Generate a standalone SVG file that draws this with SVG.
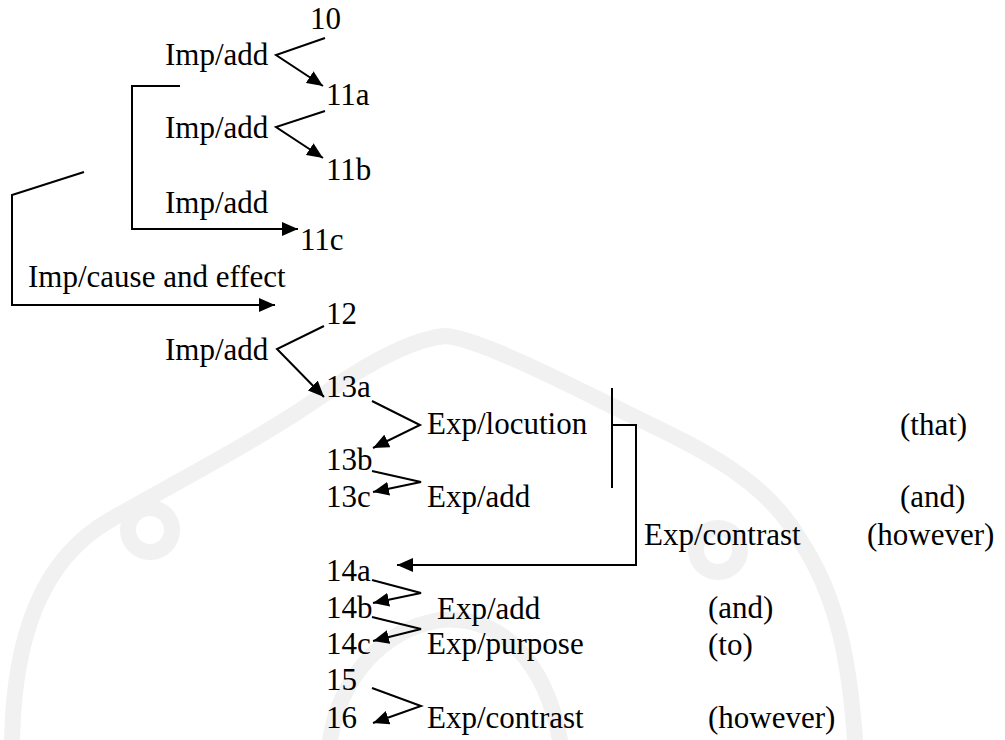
<svg xmlns="http://www.w3.org/2000/svg" width="1005" height="740" viewBox="0 0 1005 740">
  <style>
    text { font-family: Liberation Serif, Tinos, Times New Roman, Times, Noto Serif, DejaVu Serif, FreeSerif, serif; font-size: 31px; fill: #000; }
    .ln { fill: none; stroke: #000; stroke-width: 2; stroke-linejoin: miter; }
    .wm { fill: none; stroke: #f1f1f1; stroke-width: 16; stroke-linecap: round; }
  </style>
  <defs>
    <marker id="arrow" markerUnits="userSpaceOnUse" markerWidth="17" markerHeight="14" refX="16" refY="7" orient="auto">
      <path d="M0,0 L16,7 L0,14 z" fill="#000"/>
    </marker>
  </defs>
  <rect width="1005" height="740" fill="#fff"/>

  <!-- faint background emblem -->
  <g id="emblem">
    <path class="wm" d="M12,740 C14,640 40,560 110,520 C170,485 260,440 330,390 C380,355 420,338 445,336 C470,338 520,360 600,400 C680,440 760,470 800,540 C840,600 850,670 855,740"/>
    <circle class="wm" cx="150" cy="530" r="22" stroke-width="11"/>
    <circle class="wm" cx="718" cy="550" r="22" stroke-width="11"/>
    <path class="wm" d="M330,740 C340,680 380,630 440,620 C500,615 545,660 560,740" stroke-width="13"/>
  </g>

  <!-- connectors -->
  <g id="connectors">
    <path class="ln" d="M325,38 L276,55 L323,86" marker-end="url(#arrow)"/>
    <path class="ln" d="M325,111 L276,127 L323,158" marker-end="url(#arrow)"/>
    <path class="ln" d="M180,86 L132,86 L132,229 L298,229" marker-end="url(#arrow)"/>
    <path class="ln" d="M84,172 L12,195 L12,305 L275,305" marker-end="url(#arrow)"/>
    <path class="ln" d="M324,326 L277,349 L324,397" marker-end="url(#arrow)"/>
    <path class="ln" d="M372,401 L420,425 L373,448" marker-end="url(#arrow)"/>
    <path class="ln" d="M372,471 L421,482 L373,492" marker-end="url(#arrow)"/>
    <path class="ln" d="M612,388 L612,488"/>
    <path class="ln" d="M612,425 L636,425 L636,565 L397,565" marker-end="url(#arrow)"/>
    <path class="ln" d="M372,580 L421,593 L373,603" marker-end="url(#arrow)"/>
    <path class="ln" d="M372,617 L421,629 L373,641" marker-end="url(#arrow)"/>
    <path class="ln" d="M372,688 L421,706 L373,723" marker-end="url(#arrow)"/>
  </g>

  <!-- clause numbers -->
  <g id="n10"><text x="310" y="29">10</text></g>
  <g id="n11a"><text x="326" y="105">11a</text></g>
  <g id="n11b"><text x="326" y="180">11b</text></g>
  <g id="n11c"><text x="300" y="250">11c</text></g>
  <g id="n12"><text x="326" y="324">12</text></g>
  <g id="n13a"><text x="326" y="397">13a</text></g>
  <g id="n13b"><text x="326" y="470">13b</text></g>
  <g id="n13c"><text x="326" y="507">13c</text></g>
  <g id="n14a"><text x="326" y="581">14a</text></g>
  <g id="n14b"><text x="326" y="618">14b</text></g>
  <g id="n14c"><text x="326" y="654">14c</text></g>
  <g id="n15"><text x="326" y="690">15</text></g>
  <g id="n16"><text x="326" y="728">16</text></g>

  <!-- relation labels -->
  <g id="r10-11a"><text x="165" y="65">Imp/add</text></g>
  <g id="r11a-11b"><text x="165" y="138">Imp/add</text></g>
  <g id="r11-11c"><text x="165" y="213">Imp/add</text></g>
  <g id="r11-12"><text x="28" y="287">Imp/cause and effect</text></g>
  <g id="r12-13a"><text x="165" y="360">Imp/add</text></g>
  <g id="r13a-13b"><text x="427" y="434">Exp/locution</text><text x="900" y="435">(that)</text></g>
  <g id="r13b-13c"><text x="427" y="507">Exp/add</text><text x="900" y="507">(and)</text></g>
  <g id="r13-14a"><text x="644" y="545">Exp/contrast</text><text x="867" y="545">(however)</text></g>
  <g id="r14a-14b"><text x="437" y="619">Exp/add</text><text x="708" y="618">(and)</text></g>
  <g id="r14b-14c"><text x="427" y="654">Exp/purpose</text><text x="708" y="655">(to)</text></g>
  <g id="r15-16"><text x="427" y="728">Exp/contrast</text><text x="708" y="728">(however)</text></g>
</svg>
